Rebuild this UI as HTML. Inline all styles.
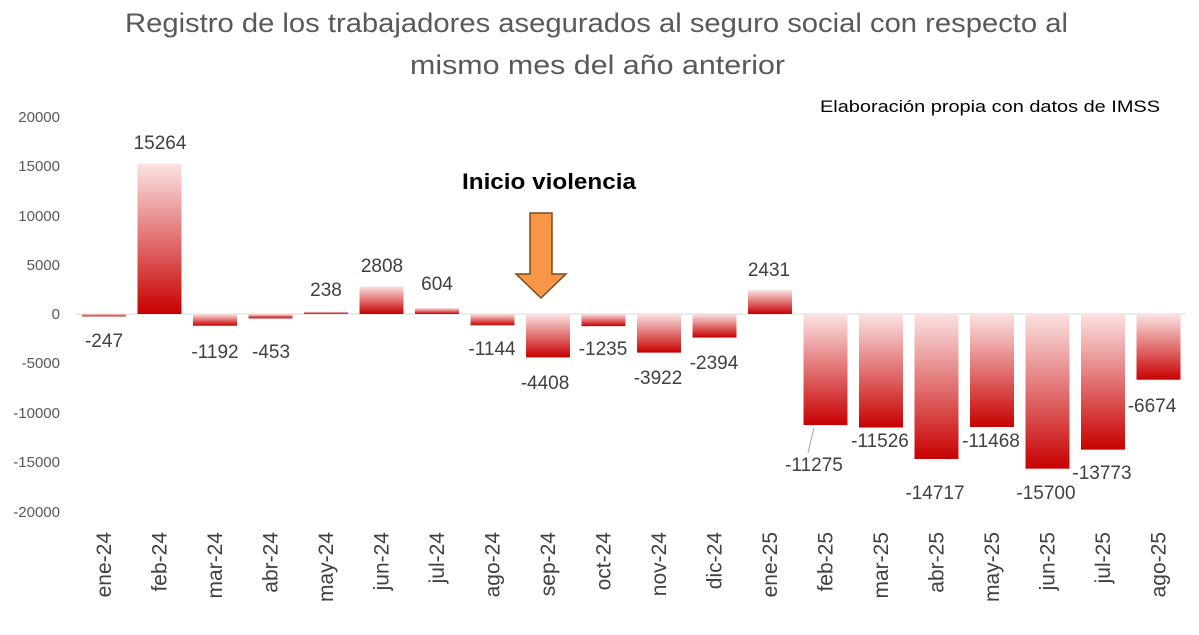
<!DOCTYPE html>
<html><head><meta charset="utf-8"><style>
body{margin:0;background:#fff;}
svg text{font-family:"Liberation Sans",Arial,sans-serif;}
</style></head><body>
<svg width="1199" height="630" xmlns="http://www.w3.org/2000/svg">
<defs>
<linearGradient id="g" x1="0" y1="0" x2="0" y2="1">
<stop offset="0" stop-color="#fbe3e3"/><stop offset="1" stop-color="#c80000"/>
</linearGradient>
</defs>
<rect width="1199" height="630" fill="#fff"/>
<text x="125" y="32" font-size="27" fill="#595959" textLength="943" lengthAdjust="spacingAndGlyphs">Registro de los trabajadores asegurados al seguro social con respecto al</text>
<text x="410" y="74" font-size="27" fill="#595959" textLength="375" lengthAdjust="spacingAndGlyphs">mismo mes del año anterior</text>
<text x="820" y="112" font-size="17" fill="#000" textLength="340" lengthAdjust="spacingAndGlyphs">Elaboración propia con datos de IMSS</text>
<g font-size="15" fill="#595959" text-anchor="end">
<text x="60" y="122">20000</text><text x="60" y="171">15000</text><text x="60" y="221">10000</text>
<text x="60" y="270">5000</text><text x="60" y="319">0</text><text x="60" y="368">-5000</text>
<text x="60" y="418">-10000</text><text x="60" y="467">-15000</text><text x="60" y="517">-20000</text>
</g>
<line x1="76" y1="314" x2="1186" y2="314" stroke="#d9d9d9"/>
<g id="bars"></g>
<g id="labels" font-size="19" fill="#404040" text-anchor="middle"></g>
<g id="xl" font-size="21" fill="#404040" text-anchor="end"></g>
<polygon points="530,213 552,213 552,274 566,274 541,298 516,274 530,274" fill="#F79646" stroke="#7f4a1a" stroke-width="1.5"/>
<text x="462" y="189" font-size="22" font-weight="bold" fill="#000" textLength="174" lengthAdjust="spacingAndGlyphs">Inicio violencia</text>
<line x1="808" y1="453" x2="814" y2="428" stroke="#a6a6a6"/>
<script>
var v=[-247,15264,-1192,-453,238,2808,604,-1144,-4408,-1235,-3922,-2394,2431,-11275,-11526,-14717,-11468,-15700,-13773,-6674];
var n=["ene-24","feb-24","mar-24","abr-24","may-24","jun-24","jul-24","ago-24","sep-24","oct-24","nov-24","dic-24","ene-25","feb-25","mar-25","abr-25","may-25","jun-25","jul-25","ago-25"];
var lp=[[104,347],[160,149],[215,358],[271,358],[326,296],[382,272],[437,290],[492,355],[545,389],[603,355],[658,384],[714,369],[769,276],[814,471],[880,447],[935,499],[991,447],[1046,499],[1102,479],[1152,412]];
var ns="http://www.w3.org/2000/svg",B=document.getElementById("bars"),L=document.getElementById("labels"),X=document.getElementById("xl");
for(var i=0;i<20;i++){var cx=104+i*55.5,h=Math.abs(v[i])*0.00985,y=v[i]>0?314-h:314;
var r=document.createElementNS(ns,"rect");r.setAttribute("x",cx-22);r.setAttribute("y",y);r.setAttribute("width",44);r.setAttribute("height",Math.max(h,1.5));r.setAttribute("fill","url(#g)");B.appendChild(r);
var t=document.createElementNS(ns,"text");t.setAttribute("x",lp[i][0]);t.setAttribute("y",lp[i][1]);t.textContent=v[i];L.appendChild(t);
var x=document.createElementNS(ns,"text");x.setAttribute("transform","translate("+(cx+7)+",532) rotate(-90)");x.textContent=n[i];X.appendChild(x);}
</script>
</svg>
</body></html>
